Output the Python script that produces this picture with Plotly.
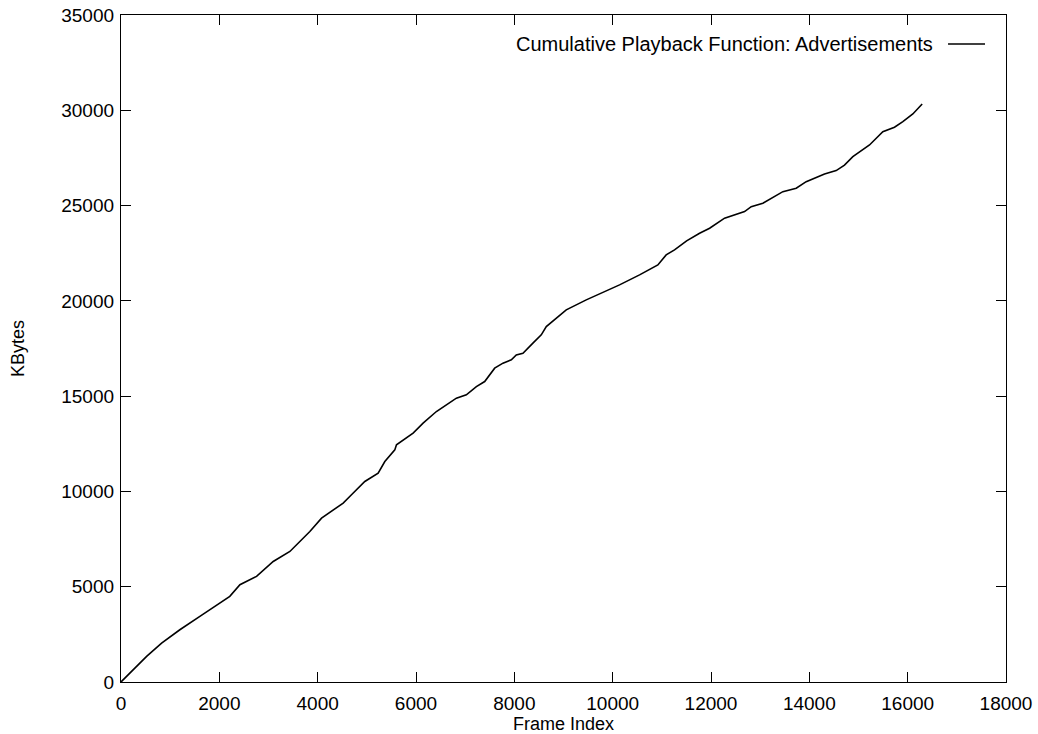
import plotly.graph_objects as go

frame_index = [0, 217, 521, 826, 1197, 1604, 2010, 2213, 2419, 2757, 3096, 3435, 3638, 3841,
               4079, 4519, 4688, 4959, 5230, 5366, 5569, 5603, 5941, 6144, 6415, 6821, 7024,
               7228, 7397, 7600, 7769, 7939, 8040, 8175, 8378, 8548, 8650, 8819, 9056, 9463,
               10140, 10547, 10919, 11088, 11258, 11504, 11768, 11972, 12276, 12683, 12818,
               13055, 13462, 13733, 13936, 14309, 14546, 14715, 14885, 15224, 15495, 15732,
               15902, 16105, 16295]
kbytes = [0, 556, 1343, 2045, 2743, 3443, 4143, 4493, 5103, 5540, 6326, 6850, 7374, 7899,
          8598, 9389, 9824, 10523, 10961, 11571, 12180, 12446, 13059, 13584, 14193, 14896, 15069,
          15504, 15766, 16469, 16731, 16904, 17166, 17254, 17780, 18215, 18651, 19000, 19527, 20051,
          20838, 21362, 21887, 22412, 22674, 23150, 23550, 23812, 24337, 24683, 24945,
          25123, 25731, 25910, 26256, 26659, 26833, 27126, 27566, 28180, 28879, 29109,
          29403, 29807, 30331]

series_name = "Cumulative Playback Function: Advertisements"
x_ticks = list(range(0, 18001, 2000))
y_ticks = list(range(0, 35001, 5000))

FONT = "Liberation Sans, Arial, Helvetica, sans-serif"

fig = go.Figure()
fig.add_trace(go.Scatter(x=frame_index, y=kbytes, mode="lines", name=series_name,
                         line=dict(color="black", width=1.6), showlegend=False))

axis_common = dict(showgrid=False, zeroline=False, showline=True, linecolor="black", linewidth=1.3,
                   mirror="allticks", ticks="inside", ticklen=10, tickwidth=1, tickcolor="black",
                   automargin=False,
                   tickfont=dict(family=FONT, size=19, color="black"))

fig.update_xaxes(range=[0, 18000], tickvals=x_ticks, ticktext=[str(v) for v in x_ticks],
                 ticklabelstandoff=4,
                 title=dict(text="Frame Index", font=dict(family=FONT, size=18, color="black"), standoff=0),
                 **axis_common)
fig.update_yaxes(range=[0, 35000], tickvals=y_ticks, ticktext=[str(v) for v in y_ticks],
                 ticklabelstandoff=2,
                 title=dict(text="KBytes", font=dict(family=FONT, size=18, color="black"), standoff=31),
                 **axis_common)

# legend (text followed by line sample, gnuplot style)
fig.add_annotation(x=0.9198, y=0.9565, xref="paper", yref="paper", text=series_name,
                   showarrow=False, xanchor="right", yanchor="middle",
                   font=dict(family=FONT, size=20, color="black"))
fig.add_shape(type="line", xref="paper", yref="paper", x0=0.9345, x1=0.9763, y0=0.9565, y1=0.9565,
              line=dict(color="black", width=1.5))

fig.update_layout(width=1038, height=734, margin=dict(l=121, r=32, t=15, b=52),
                  paper_bgcolor="white", plot_bgcolor="white",
                  font=dict(family=FONT, size=18, color="black"))

fig.write_html("out.html")
